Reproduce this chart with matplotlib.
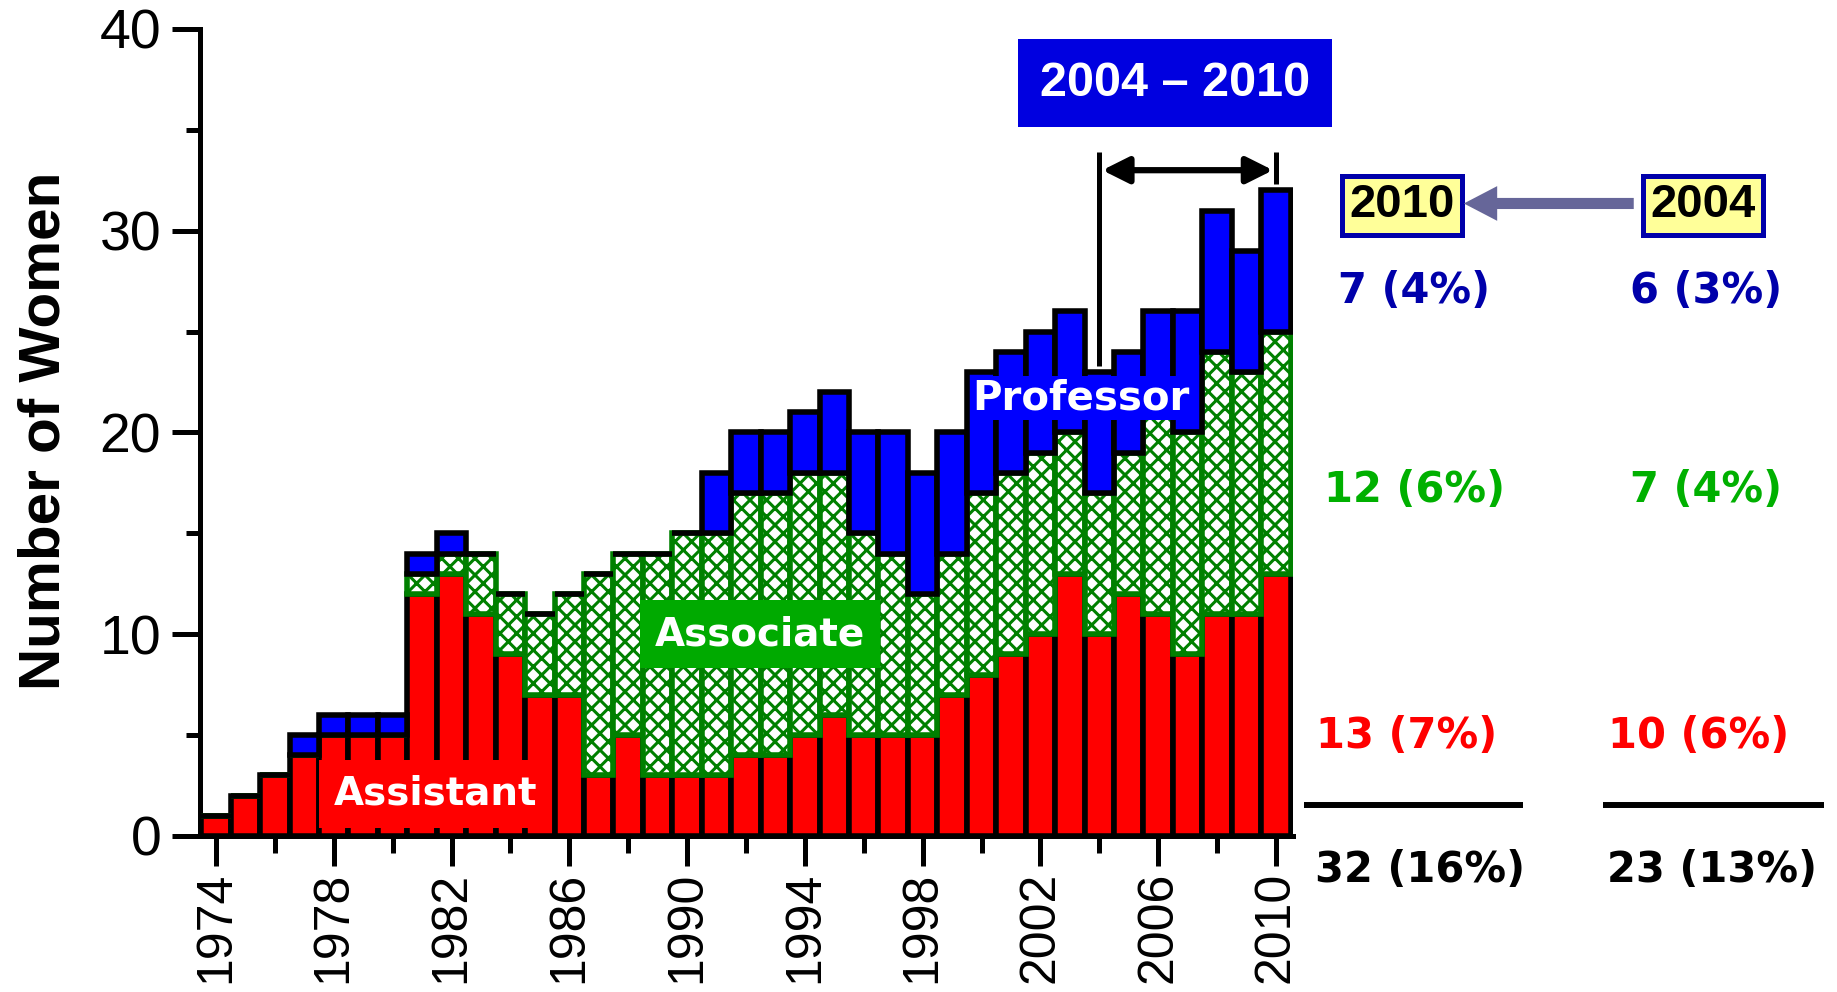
import numpy as np
import matplotlib as mpl
import matplotlib.pyplot as plt

#---------------------------------------------------------------------------------------------------
# Global Parameters
#---------------------------------------------------------------------------------------------------

mpl.rcParams['font.family'] = ['Liberation Sans', 'DejaVu Sans']
mpl.rcParams['hatch.linewidth'] = 2.2

COMIC = ['DejaVu Sans']

RED = '#FF0000'
GREEN_EDGE = '#008000'
BLUE = '#0000FF'

#---------------------------------------------------------------------------------------------------
# Data
#---------------------------------------------------------------------------------------------------

years = np.arange(1974, 2011)
assistant = [1, 2, 3, 4, 5, 5, 5, 12, 13, 11, 9, 7, 7, 3, 5, 3, 3, 3, 4, 4, 5, 6, 5,
             5, 5, 7, 8, 9, 10, 13, 10, 12, 11, 9, 11, 11, 13]
associate = [0, 0, 0, 0, 0, 0, 0, 1, 1, 3, 3, 4, 5, 10, 9, 11, 12, 12, 13, 13, 13, 12, 10,
             9, 7, 7, 9, 9, 9, 7, 7, 7, 10, 11, 13, 12, 12]
professor = [0, 0, 0, 1, 1, 1, 1, 1, 1, 0, 0, 0, 0, 0, 0, 0, 0, 3, 3, 3, 3, 4, 5,
             6, 6, 6, 6, 6, 6, 6, 6, 5, 5, 6, 7, 6, 7]

# right-hand comparison (2010 vs 2004)
cmp_years = ['2010', '2004']
cmp_prof = ['7 (4%)', '6 (3%)']
cmp_assoc = ['12 (6%)', '7 (4%)']
cmp_asst = ['13 (7%)', '10 (6%)']
cmp_total = ['32 (16%)', '23 (13%)']

#---------------------------------------------------------------------------------------------------
# Plot
#---------------------------------------------------------------------------------------------------

fig = plt.figure(figsize=(18.37, 9.92), dpi=100)
ax = fig.add_axes([0.1089, 0.1573, 0.7039 - 0.1089, 0.9708 - 0.1573])

asst = np.array(assistant)
assoc = np.array(associate)
prof = np.array(professor)

ax.bar(years, asst, width=1.0, color=RED, edgecolor='k', linewidth=4, zorder=2)
ax.bar(years, assoc, width=1.0, bottom=asst, color='white', edgecolor=GREEN_EDGE,
       hatch='xx', linewidth=4, zorder=3)
ax.bar(years, prof, width=1.0, bottom=asst + assoc, color=BLUE, edgecolor='k',
       linewidth=4, zorder=4)

ax.set_xlim(1973.46, 2010.58)
ax.set_ylim(0, 40)

ax.spines['top'].set_visible(False)
ax.spines['right'].set_visible(False)
ax.spines['left'].set_linewidth(3.6)
ax.spines['bottom'].set_linewidth(3.6)

ax.set_yticks([0, 10, 20, 30, 40])
ax.set_yticks([5, 15, 25, 35], minor=True)
ax.set_xticks(np.arange(1974, 2011, 4))
ax.set_xticks(np.arange(1976, 2011, 4), minor=True)
ax.tick_params(axis='y', which='major', length=20, width=3.6, labelsize=40, pad=8)
ax.tick_params(axis='y', which='minor', length=10, width=3.6)
ax.tick_params(axis='x', which='major', length=21.5, width=3.6, labelsize=36, pad=4,
               labelrotation=90)
ax.tick_params(axis='x', which='minor', length=12, width=3.6)

fig.text(0.024, 0.566, 'Number of Women', rotation=90, ha='center', va='center',
         fontsize=42, fontweight='bold')

# series labels
ax.text(1981.47, 2.08, 'Assistant', fontsize=28, fontweight='bold', family=COMIC,
        color='white', ha='center', va='center', zorder=6,
        bbox=dict(boxstyle='square,pad=0.38', fc=RED, ec='none'))
ax.text(1992.48, 10.0, 'Associate', fontsize=28, fontweight='bold', family=COMIC,
        color='white', ha='center', va='center', zorder=6,
        bbox=dict(boxstyle='square,pad=0.38', fc='#00AA00', ec='none'))
ax.text(2003.38, 21.7, 'Professor', fontsize=29, fontweight='bold', family=COMIC,
        color='white', ha='center', va='center', zorder=6,
        bbox=dict(boxstyle='square,pad=0.05', fc=BLUE, ec='none'))

# 2004 - 2010 span marker
ax.text(2006.57, 37.32, '2004 \u2013 2010', fontsize=35, fontweight='bold', color='white',
        ha='center', va='center', zorder=6,
        bbox=dict(boxstyle='square,pad=0.45', fc='#0000E0', ec='none'))
ax.plot([2004, 2004], [23.3, 33.9], color='k', lw=3.6, clip_on=False, zorder=5,
        solid_capstyle='butt')
ax.plot([2010, 2010], [32.3, 33.9], color='k', lw=3.6, clip_on=False, zorder=5,
        solid_capstyle='butt')
ax.annotate('', xy=(2004.1, 33.0), xytext=(2009.9, 33.0), annotation_clip=False,
            arrowprops=dict(arrowstyle='<|-|>', lw=4.5, color='k', mutation_scale=40,
                            shrinkA=0, shrinkB=0))

# comparison columns
col_x = [2014.7, 2024.6]
box_x = [2014.28, 2024.51]
for i in range(2):
    ax.text(box_x[i], 31.25, cmp_years[i], fontsize=34, fontweight='bold', color='k',
            ha='center', va='center',
            bbox=dict(boxstyle='square,pad=0.16', fc='#FFFF99', ec='#0000AA', lw=3.6))
    ax.text(col_x[i], 27.0, cmp_prof[i], fontsize=30, fontweight='bold', family=COMIC,
            color='#0000AA', ha='center', va='center')
    ax.text(col_x[i], 17.15, cmp_assoc[i], fontsize=30, fontweight='bold', family=COMIC,
            color='#00B000', ha='center', va='center')
    ax.text(col_x[i] - 0.25, 4.96, cmp_asst[i], fontsize=30, fontweight='bold', family=COMIC,
            color=RED, ha='center', va='center')
    ax.text(col_x[i] + 0.2, -1.69, cmp_total[i], fontsize=30, fontweight='bold', family=COMIC,
            color='k', ha='center', va='center')

ax.plot([2010.96, 2018.4], [1.54, 1.54], color='k', lw=4.3, clip_on=False,
        solid_capstyle='butt')
ax.plot([2021.1, 2028.6], [1.54, 1.54], color='k', lw=4.3, clip_on=False,
        solid_capstyle='butt')

ax.annotate('', xy=(2016.38, 31.35), xytext=(2022.15, 31.35), annotation_clip=False,
            arrowprops=dict(width=8, headwidth=25, headlength=24, fc='#666699',
                            ec='none', shrink=0))

fig.savefig('out.png', dpi=100)
